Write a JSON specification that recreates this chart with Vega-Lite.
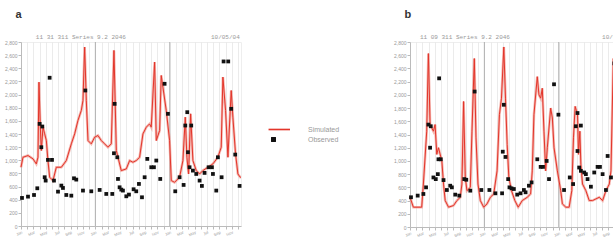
{
  "$schema": "https://vega.github.io/schema/vega-lite/v6.json",
  "padding": {"left": 3, "top": 8, "right": 0, "bottom": 0},
  "background": "white",
  "datasets": {
    "simA": [
      {"m":0,"v":894},{"m":0.32,"v":1046},{"m":1.13,"v":1072},{"m":1.94,"v":1021},{"m":2.47,"v":945},{"m":2.74,"v":1046},{"m":2.9,"v":2189},{"m":3.12,"v":1504},{"m":3.28,"v":1148},{"m":3.55,"v":1504},{"m":3.82,"v":1402},{"m":4.09,"v":1300},{"m":4.35,"v":996},{"m":4.62,"v":742},{"m":5.16,"v":691},{"m":5.7,"v":894},{"m":6.51,"v":894},{"m":7.31,"v":996},{"m":8.12,"v":1250},{"m":8.66,"v":1402},{"m":9.19,"v":1605},{"m":9.73,"v":1758},{"m":10.0,"v":1910},{"m":10.27,"v":2723},{"m":10.54,"v":1910},{"m":10.81,"v":1300},{"m":11.34,"v":1250},{"m":11.88,"v":1351},{"m":12.42,"v":1377},{"m":12.96,"v":1300},{"m":13.49,"v":1250},{"m":14.03,"v":1199},{"m":14.57,"v":1250},{"m":15.0,"v":2672},{"m":15.38,"v":1148},{"m":15.65,"v":1046},{"m":16.18,"v":843},{"m":16.99,"v":869},{"m":17.53,"v":996},{"m":18.06,"v":970},{"m":18.6,"v":996},{"m":19.14,"v":1046},{"m":19.68,"v":1402},{"m":20.22,"v":1504},{"m":20.75,"v":1554},{"m":21.02,"v":1504},{"m":21.56,"v":2494},{"m":21.83,"v":1300},{"m":22.37,"v":1453},{"m":22.63,"v":2291},{"m":22.9,"v":2113},{"m":23.44,"v":1758},{"m":23.98,"v":1300},{"m":24.25,"v":691},{"m":24.78,"v":665},{"m":25.59,"v":742},{"m":26.13,"v":996},{"m":26.51,"v":1656},{"m":26.77,"v":1046},{"m":27.04,"v":792},{"m":27.37,"v":1707},{"m":27.74,"v":996},{"m":28.28,"v":843},{"m":28.82,"v":792},{"m":29.35,"v":843},{"m":30.16,"v":894},{"m":30.97,"v":945},{"m":31.77,"v":1046},{"m":32.31,"v":1199},{"m":32.58,"v":2266},{"m":33.01,"v":1758},{"m":33.39,"v":1046},{"m":33.92,"v":2062},{"m":34.19,"v":1656},{"m":34.62,"v":1097},{"m":35.0,"v":792},{"m":35.38,"v":742},{"m":35.5,"v":742}
    ],
    "obsA": [
      {"m":0.16,"v":427},{"m":1.13,"v":447},{"m":2.1,"v":472},{"m":2.63,"v":574},{"m":3.01,"v":1554},{"m":3.44,"v":1514},{"m":3.28,"v":1199},{"m":3.82,"v":742},{"m":3.98,"v":691},{"m":4.35,"v":1006},{"m":4.62,"v":2256},{"m":5.0,"v":1006},{"m":5.32,"v":691},{"m":5.97,"v":523},{"m":6.51,"v":615},{"m":6.77,"v":579},{"m":7.31,"v":472},{"m":8.12,"v":462},{"m":8.55,"v":726},{"m":8.92,"v":706},{"m":10.0,"v":539},{"m":10.38,"v":2062},{"m":11.34,"v":528},{"m":12.69,"v":549},{"m":13.76,"v":488},{"m":14.73,"v":488},{"m":15.11,"v":1859},{"m":15.0,"v":1107},{"m":15.54,"v":1046},{"m":15.65,"v":716},{"m":15.91,"v":589},{"m":16.18,"v":554},{"m":16.45,"v":539},{"m":16.99,"v":452},{"m":17.42,"v":478},{"m":18.17,"v":559},{"m":18.6,"v":528},{"m":19.03,"v":640},{"m":19.52,"v":437},{"m":19.95,"v":742},{"m":20.38,"v":1021},{"m":21.02,"v":894},{"m":21.45,"v":894},{"m":21.83,"v":996},{"m":22.47,"v":716},{"m":23.17,"v":2164},{"m":23.71,"v":1707},{"m":24.89,"v":528},{"m":25.59,"v":742},{"m":26.24,"v":625},{"m":26.51,"v":1529},{"m":26.83,"v":1732},{"m":27.47,"v":1529},{"m":26.94,"v":1123},{"m":27.2,"v":894},{"m":27.74,"v":843},{"m":28.28,"v":792},{"m":28.82,"v":691},{"m":29.19,"v":610},{"m":29.62,"v":808},{"m":30.27,"v":894},{"m":30.81,"v":894},{"m":30.97,"v":792},{"m":31.51,"v":539},{"m":31.77,"v":1046},{"m":32.37,"v":742},{"m":32.69,"v":2504},{"m":33.44,"v":2504},{"m":33.92,"v":1783},{"m":34.57,"v":1087},{"m":35.27,"v":610}
    ],
    "simB": [
      {"m":0,"v":450},{"m":0.54,"v":300},{"m":1.89,"v":300},{"m":2.16,"v":650},{"m":2.7,"v":1450},{"m":2.97,"v":2625},{"m":3.24,"v":1550},{"m":3.51,"v":1500},{"m":3.78,"v":1450},{"m":4.05,"v":1550},{"m":4.32,"v":1100},{"m":4.59,"v":1200},{"m":5.14,"v":1000},{"m":5.41,"v":650},{"m":5.68,"v":400},{"m":6.22,"v":300},{"m":7.03,"v":325},{"m":7.57,"v":400},{"m":8.11,"v":450},{"m":8.38,"v":650},{"m":8.65,"v":1900},{"m":8.92,"v":750},{"m":9.19,"v":550},{"m":9.73,"v":600},{"m":10.0,"v":1450},{"m":10.38,"v":2550},{"m":10.65,"v":1350},{"m":10.97,"v":650},{"m":11.35,"v":400},{"m":11.89,"v":300},{"m":12.43,"v":350},{"m":12.97,"v":450},{"m":13.51,"v":500},{"m":14.05,"v":850},{"m":14.43,"v":1700},{"m":14.76,"v":1950},{"m":15.14,"v":2725},{"m":15.41,"v":1950},{"m":15.68,"v":1250},{"m":15.95,"v":750},{"m":16.38,"v":550},{"m":16.92,"v":400},{"m":17.46,"v":300},{"m":18.11,"v":400},{"m":18.92,"v":450},{"m":19.46,"v":500},{"m":19.73,"v":850},{"m":20.0,"v":1700},{"m":20.54,"v":2275},{"m":20.81,"v":2000},{"m":21.08,"v":1950},{"m":21.35,"v":2100},{"m":21.62,"v":1450},{"m":21.89,"v":850},{"m":22.16,"v":1200},{"m":22.7,"v":1800},{"m":22.97,"v":1650},{"m":23.24,"v":1200},{"m":23.78,"v":850},{"m":24.32,"v":550},{"m":24.59,"v":350},{"m":25.14,"v":300},{"m":25.68,"v":300},{"m":26.11,"v":550},{"m":26.38,"v":1350},{"m":26.65,"v":1825},{"m":27.03,"v":1700},{"m":27.19,"v":1100},{"m":27.41,"v":1450},{"m":27.57,"v":950},{"m":27.84,"v":650},{"m":28.38,"v":550},{"m":28.92,"v":400},{"m":29.46,"v":400},{"m":30.0,"v":425},{"m":30.54,"v":450},{"m":31.08,"v":400},{"m":31.62,"v":550},{"m":32.16,"v":650},{"m":32.43,"v":850},{"m":32.81,"v":2550},{"m":33.14,"v":2250},{"m":33.51,"v":1550},{"m":33.78,"v":1250},{"m":34.05,"v":900},{"m":34.59,"v":1150},{"m":35.14,"v":950},{"m":35.5,"v":700}
    ],
    "obsB": [
      {"m":0.16,"v":450},{"m":1.24,"v":475},{"m":2.16,"v":500},{"m":2.59,"v":600},{"m":2.97,"v":1550},{"m":3.35,"v":1525},{"m":3.24,"v":1200},{"m":3.78,"v":750},{"m":4.16,"v":725},{"m":4.49,"v":800},{"m":4.7,"v":2250},{"m":4.59,"v":1025},{"m":4.97,"v":1025},{"m":5.41,"v":710},{"m":5.95,"v":560},{"m":6.49,"v":625},{"m":6.76,"v":600},{"m":7.3,"v":490},{"m":7.95,"v":475},{"m":8.76,"v":725},{"m":9.08,"v":715},{"m":9.73,"v":550},{"m":10.43,"v":2050},{"m":11.51,"v":560},{"m":12.81,"v":560},{"m":13.78,"v":510},{"m":14.86,"v":510},{"m":14.97,"v":1140},{"m":15.41,"v":1060},{"m":15.14,"v":1850},{"m":15.84,"v":725},{"m":16.05,"v":600},{"m":16.38,"v":585},{"m":16.76,"v":575},{"m":17.3,"v":490},{"m":17.84,"v":510},{"m":18.38,"v":560},{"m":18.65,"v":525},{"m":19.19,"v":625},{"m":19.62,"v":675},{"m":20.54,"v":1025},{"m":21.08,"v":910},{"m":21.46,"v":910},{"m":22.05,"v":1000},{"m":22.43,"v":725},{"m":23.24,"v":2160},{"m":23.95,"v":1700},{"m":24.86,"v":560},{"m":25.78,"v":750},{"m":26.32,"v":650},{"m":26.76,"v":1525},{"m":27.03,"v":1725},{"m":27.57,"v":1535},{"m":27.03,"v":1150},{"m":27.3,"v":900},{"m":27.57,"v":850},{"m":28.11,"v":825},{"m":28.38,"v":800},{"m":28.65,"v":725},{"m":29.19,"v":610},{"m":29.73,"v":825},{"m":30.27,"v":910},{"m":30.65,"v":910},{"m":31.08,"v":800},{"m":31.62,"v":560},{"m":31.89,"v":1075},{"m":32.43,"v":750},{"m":32.97,"v":2475},{"m":33.51,"v":2475},{"m":34.05,"v":1775},{"m":34.76,"v":1110},{"m":35.3,"v":625}
    ],
    "years": [{"m":12},{"m":24}],
    "headA": [{"t":"11 31 311 Series 9.2  2046"}],
    "dateA": [{"t":"10/05/04"}],
    "headB": [{"t":"11 09 311 Series 9.2  2046"}],
    "dateB": [{"t":"10/05/04"}]
  },
  "config": {
    "font": "Liberation Sans",
    "view": {"stroke": "#eeeeee"},
    "axis": {
      "labelColor": "#999999", "labelFontSize": 5, "domainColor": "#bbbbbb",
      "tickColor": "#bbbbbb", "tickSize": 3, "title": null, "labelPadding": 1
    },
    "title": {"anchor": "start", "fontSize": 11, "fontWeight": "bold", "color": "#333333", "dx": 11, "offset": 14}
  },
  "spacing": 145,
  "hconcat": [
    {
      "title": "a",
      "width": 220,
      "height": 184,
      "layer": [
        {"data": {"name": "years"}, "mark": {"type": "rule", "color": "#a0a0a0", "strokeWidth": 0.8},
          "encoding": {"x": {"field": "m", "type": "quantitative", "scale": {"domain": [0, 35.5], "nice": false, "zero": false},
            "axis": {"grid": true, "gridColor": "#e2e2e2", "gridWidth": 0.7, "labelAngle": -25, "labelAlign": "right", "labelFontSize": 4, "values": [0,1,2,3,4,5,6,7,8,9,10,11,12,13,14,15,16,17,18,19,20,21,22,23,24,25,26,27,28,29,30,31,32,33,34,35], "labelExpr": "['Jan','Feb','Mar','Apr','May','Jun','Jul','Aug','Sep','Oct','Nov','Dec'][datum.value % 12]"}}}},
        {"data": {"name": "simA"}, "mark": {"type": "line", "color": "#f19a92", "strokeWidth": 2.6, "opacity": 0.7},
          "encoding": {
            "x": {"field": "m", "type": "quantitative", "axis": {"grid": true, "gridColor": "#e2e2e2", "gridWidth": 0.7, "labelAngle": -25, "labelAlign": "right", "labelFontSize": 4, "values": [0,1,2,3,4,5,6,7,8,9,10,11,12,13,14,15,16,17,18,19,20,21,22,23,24,25,26,27,28,29,30,31,32,33,34,35], "labelExpr": "['Jan','Feb','Mar','Apr','May','Jun','Jul','Aug','Sep','Oct','Nov','Dec'][datum.value % 12]"}},
            "y": {"field": "v", "type": "quantitative", "scale": {"domain": [0, 2800], "nice": false}, "axis": {"grid": false, "values": [0,200,400,600,800,1000,1200,1400,1600,1800,2000,2200,2400,2600,2800]}}}},
        {"data": {"name": "simA"}, "mark": {"type": "line", "color": "#e3352a", "strokeWidth": 1},
          "encoding": {
            "x": {"field": "m", "type": "quantitative", "axis": {"grid": true, "gridColor": "#e2e2e2", "gridWidth": 0.7, "labelAngle": -25, "labelAlign": "right", "labelFontSize": 4, "values": [0,1,2,3,4,5,6,7,8,9,10,11,12,13,14,15,16,17,18,19,20,21,22,23,24,25,26,27,28,29,30,31,32,33,34,35], "labelExpr": "['Jan','Feb','Mar','Apr','May','Jun','Jul','Aug','Sep','Oct','Nov','Dec'][datum.value % 12]"}},
            "y": {"field": "v", "type": "quantitative", "axis": {"grid": false, "values": [0,200,400,600,800,1000,1200,1400,1600,1800,2000,2200,2400,2600,2800]}}}},
        {"data": {"name": "obsA"}, "mark": {"type": "point", "filled": true, "opacity": 1, "size": 70},
          "encoding": {
            "x": {"field": "m", "type": "quantitative", "axis": {"grid": true, "gridColor": "#e2e2e2", "gridWidth": 0.7, "labelAngle": -25, "labelAlign": "right", "labelFontSize": 4, "values": [0,1,2,3,4,5,6,7,8,9,10,11,12,13,14,15,16,17,18,19,20,21,22,23,24,25,26,27,28,29,30,31,32,33,34,35], "labelExpr": "['Jan','Feb','Mar','Apr','May','Jun','Jul','Aug','Sep','Oct','Nov','Dec'][datum.value % 12]"}},
            "y": {"field": "v", "type": "quantitative", "axis": {"grid": false, "values": [0,200,400,600,800,1000,1200,1400,1600,1800,2000,2200,2400,2600,2800]}},
            "color": {"datum": "Observed", "scale": {"domain": ["Simulated", "Observed"], "range": ["#e3352a", "#111111"]},
              "legend": {"orient": "none", "legendX": 247, "legendY": 82, "title": null, "symbolSize": 121,
                "labelOffset": 29, "labelFontSize": 7, "labelColor": "#999999", "rowPadding": 1, "symbolStrokeWidth": 0, "symbolOpacity": 1}},
            "shape": {"datum": "Observed", "scale": {"domain": ["Simulated", "Observed"], "range": ["M-0.9,-0.15H3V0.15H-0.9Z", "M-0.45,-0.45H0.45V0.45H-0.45Z"]}}
          }},
        {"data": {"name": "headA"}, "mark": {"type": "text", "align": "left", "baseline": "bottom", "dy": -2, "font": "Liberation Mono", "fontSize": 6, "fill": "#999999"},
          "encoding": {
            "x": {"datum": 2.4, "type": "quantitative", "axis": {"grid": true, "gridColor": "#e2e2e2", "gridWidth": 0.7, "labelAngle": -25, "labelAlign": "right", "labelFontSize": 4, "values": [0,1,2,3,4,5,6,7,8,9,10,11,12,13,14,15,16,17,18,19,20,21,22,23,24,25,26,27,28,29,30,31,32,33,34,35], "labelExpr": "['Jan','Feb','Mar','Apr','May','Jun','Jul','Aug','Sep','Oct','Nov','Dec'][datum.value % 12]"}},
            "y": {"datum": 2800, "type": "quantitative", "axis": {"grid": false, "values": [0,200,400,600,800,1000,1200,1400,1600,1800,2000,2200,2400,2600,2800]}},
            "text": {"field": "t", "type": "nominal"}}},
        {"data": {"name": "dateA"}, "mark": {"type": "text", "align": "right", "baseline": "bottom", "dy": -2, "font": "Liberation Mono", "fontSize": 6, "fill": "#999999"},
          "encoding": {
            "x": {"datum": 35.3, "type": "quantitative", "axis": {"grid": true, "gridColor": "#e2e2e2", "gridWidth": 0.7, "labelAngle": -25, "labelAlign": "right", "labelFontSize": 4, "values": [0,1,2,3,4,5,6,7,8,9,10,11,12,13,14,15,16,17,18,19,20,21,22,23,24,25,26,27,28,29,30,31,32,33,34,35], "labelExpr": "['Jan','Feb','Mar','Apr','May','Jun','Jul','Aug','Sep','Oct','Nov','Dec'][datum.value % 12]"}},
            "y": {"datum": 2800, "type": "quantitative", "axis": {"grid": false, "values": [0,200,400,600,800,1000,1200,1400,1600,1800,2000,2200,2400,2600,2800]}},
            "text": {"field": "t", "type": "nominal"}}}
      ]
    },
    {
      "title": "b",
      "width": 220,
      "height": 185,
      "layer": [
        {"data": {"name": "years"}, "mark": {"type": "rule", "color": "#a0a0a0", "strokeWidth": 0.8},
          "encoding": {"x": {"field": "m", "type": "quantitative", "scale": {"domain": [0, 35.5], "nice": false, "zero": false},
            "axis": {"grid": true, "gridColor": "#e2e2e2", "gridWidth": 0.7, "labelAngle": -25, "labelAlign": "right", "labelFontSize": 4, "values": [0,1,2,3,4,5,6,7,8,9,10,11,12,13,14,15,16,17,18,19,20,21,22,23,24,25,26,27,28,29,30,31,32,33,34,35], "labelExpr": "['Jan','Feb','Mar','Apr','May','Jun','Jul','Aug','Sep','Oct','Nov','Dec'][datum.value % 12]"}}}},
        {"data": {"name": "simB"}, "mark": {"type": "line", "color": "#f19a92", "strokeWidth": 2.6, "opacity": 0.7},
          "encoding": {
            "x": {"field": "m", "type": "quantitative", "axis": {"grid": true, "gridColor": "#e2e2e2", "gridWidth": 0.7, "labelAngle": -25, "labelAlign": "right", "labelFontSize": 4, "values": [0,1,2,3,4,5,6,7,8,9,10,11,12,13,14,15,16,17,18,19,20,21,22,23,24,25,26,27,28,29,30,31,32,33,34,35], "labelExpr": "['Jan','Feb','Mar','Apr','May','Jun','Jul','Aug','Sep','Oct','Nov','Dec'][datum.value % 12]"}},
            "y": {"field": "v", "type": "quantitative", "scale": {"domain": [0, 2800], "nice": false}, "axis": {"grid": false, "values": [0,200,400,600,800,1000,1200,1400,1600,1800,2000,2200,2400,2600,2800]}}}},
        {"data": {"name": "simB"}, "mark": {"type": "line", "color": "#e3352a", "strokeWidth": 1},
          "encoding": {
            "x": {"field": "m", "type": "quantitative", "axis": {"grid": true, "gridColor": "#e2e2e2", "gridWidth": 0.7, "labelAngle": -25, "labelAlign": "right", "labelFontSize": 4, "values": [0,1,2,3,4,5,6,7,8,9,10,11,12,13,14,15,16,17,18,19,20,21,22,23,24,25,26,27,28,29,30,31,32,33,34,35], "labelExpr": "['Jan','Feb','Mar','Apr','May','Jun','Jul','Aug','Sep','Oct','Nov','Dec'][datum.value % 12]"}},
            "y": {"field": "v", "type": "quantitative", "axis": {"grid": false, "values": [0,200,400,600,800,1000,1200,1400,1600,1800,2000,2200,2400,2600,2800]}}}},
        {"data": {"name": "obsB"}, "mark": {"type": "point", "filled": true, "opacity": 1, "size": 70},
          "encoding": {
            "x": {"field": "m", "type": "quantitative", "axis": {"grid": true, "gridColor": "#e2e2e2", "gridWidth": 0.7, "labelAngle": -25, "labelAlign": "right", "labelFontSize": 4, "values": [0,1,2,3,4,5,6,7,8,9,10,11,12,13,14,15,16,17,18,19,20,21,22,23,24,25,26,27,28,29,30,31,32,33,34,35], "labelExpr": "['Jan','Feb','Mar','Apr','May','Jun','Jul','Aug','Sep','Oct','Nov','Dec'][datum.value % 12]"}},
            "y": {"field": "v", "type": "quantitative", "axis": {"grid": false, "values": [0,200,400,600,800,1000,1200,1400,1600,1800,2000,2200,2400,2600,2800]}},
            "color": {"datum": "Observed"},
            "shape": {"datum": "Observed"}
          }},
        {"data": {"name": "headB"}, "mark": {"type": "text", "align": "left", "baseline": "bottom", "dy": -2, "font": "Liberation Mono", "fontSize": 6, "fill": "#999999"},
          "encoding": {
            "x": {"datum": 1.6, "type": "quantitative", "axis": {"grid": true, "gridColor": "#e2e2e2", "gridWidth": 0.7, "labelAngle": -25, "labelAlign": "right", "labelFontSize": 4, "values": [0,1,2,3,4,5,6,7,8,9,10,11,12,13,14,15,16,17,18,19,20,21,22,23,24,25,26,27,28,29,30,31,32,33,34,35], "labelExpr": "['Jan','Feb','Mar','Apr','May','Jun','Jul','Aug','Sep','Oct','Nov','Dec'][datum.value % 12]"}},
            "y": {"datum": 2800, "type": "quantitative", "axis": {"grid": false, "values": [0,200,400,600,800,1000,1200,1400,1600,1800,2000,2200,2400,2600,2800]}},
            "text": {"field": "t", "type": "nominal"}}},
        {"data": {"name": "dateB"}, "mark": {"type": "text", "align": "left", "baseline": "bottom", "dy": -2, "font": "Liberation Mono", "fontSize": 6, "fill": "#999999"},
          "encoding": {
            "x": {"datum": 31, "type": "quantitative", "axis": {"grid": true, "gridColor": "#e2e2e2", "gridWidth": 0.7, "labelAngle": -25, "labelAlign": "right", "labelFontSize": 4, "values": [0,1,2,3,4,5,6,7,8,9,10,11,12,13,14,15,16,17,18,19,20,21,22,23,24,25,26,27,28,29,30,31,32,33,34,35], "labelExpr": "['Jan','Feb','Mar','Apr','May','Jun','Jul','Aug','Sep','Oct','Nov','Dec'][datum.value % 12]"}},
            "y": {"datum": 2800, "type": "quantitative", "axis": {"grid": false, "values": [0,200,400,600,800,1000,1200,1400,1600,1800,2000,2200,2400,2600,2800]}},
            "text": {"field": "t", "type": "nominal"}}}
      ]
    }
  ]
}
